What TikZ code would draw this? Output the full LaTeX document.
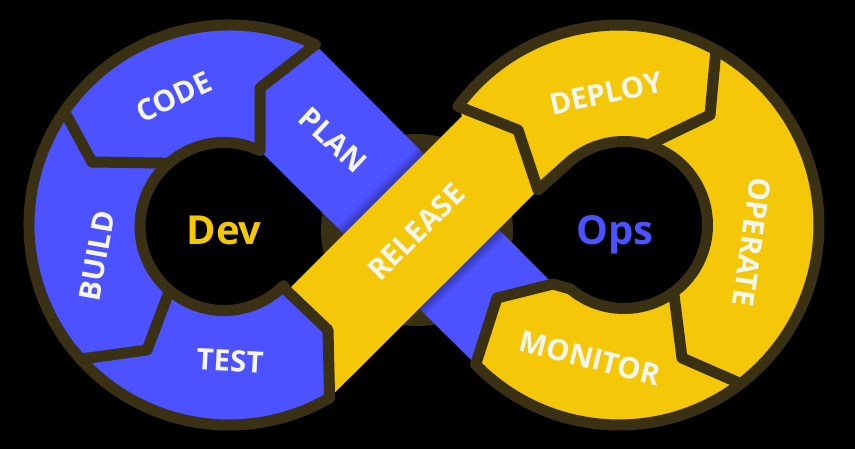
\documentclass[tikz,border=0pt]{standalone}
\usepackage{fontspec}
\setmainfont{Open Sans}
\usetikzlibrary{calc}
\definecolor{devblue}{RGB}{76,82,255}
\definecolor{devyellow}{RGB}{244,199,8}
\definecolor{rim}{RGB}{58,48,20}
\definecolor{lblwhite}{RGB}{246,246,240}
\begin{document}
\begin{tikzpicture}[x=1pt,y=1pt,
  rimline/.style={draw=rim, line width=11pt, line cap=round, line join=round},
  lbl/.style={text=lblwhite, font=\fontsize{29.5}{29.5}\selectfont\bfseries, inner sep=0pt},
  hub/.style={font=\fontsize{40}{40}\selectfont\bfseries, inner sep=0pt, anchor=base}]
\fill[black] (0,0) rectangle (855,-449);
\useasboundingbox (0,0) rectangle (855,-449);
% centres
\coordinate (L) at (229,-225);
\coordinate (HL) at (224,-226.5);
\coordinate (R) at (619,-225);
\coordinate (HR) at (624,-225);
% left separators
\coordinate (A1) at ($(L)+(64.4:200)$);
\coordinate (A2) at (260,-88);
\coordinate (A3) at ($(HL)+(64.6:84)$);
\coordinate (B1) at ($(L)+(145.4:200)$);
\coordinate (B2) at (92,-162);
\coordinate (B3) at ($(HL)+(131:84)$);
\coordinate (C1) at ($(L)+(222.1:200)$);
\coordinate (C2) at (147,-350);
\coordinate (C3) at ($(HL)+(229.6:84)$);
\coordinate (D1) at ($(L)+(-59.8:200)$);
\coordinate (D2) at (328,-330);
\coordinate (D3) at (287,-291);
\coordinate (D4) at ($(HL)+(315:84)$);
% right separators
\coordinate (E0) at (462,-116);
\coordinate (E1) at ($(R)+(143.6:200)$);
\coordinate (E2) at (518,-130);
\coordinate (E3) at (538,-190);
\coordinate (E4) at ($(HR)+(133:83.5)$);
\coordinate (F1) at ($(R)+(61:200)$);
\coordinate (F2) at (710,-115);
\coordinate (F3) at ($(HR)+(73.3:83.5)$);
\coordinate (G1) at ($(R)+(-52.5:200)$);
\coordinate (G2) at (682,-358);
\coordinate (G3) at ($(HR)+(-53.5:83.5)$);
\coordinate (H1) at ($(R)+(224.2:200)$);
\coordinate (H2) at (497,-298);
\coordinate (H3) at (553,-284);
\coordinate (H4) at ($(HR)+(-130:83.5)$);
% crossing disc
\fill[rim] (417,-230) circle[radius=96];
% left body: CODE, BUILD, TEST
\fill[devblue] (A1) arc[start angle=64.4, end angle=300.2, radius=200] -- (D2) -- (D3) -- (D4)
  arc[start angle=315, end angle=64.6, radius=84] -- (A2) -- cycle;
% right body: DEPLOY, OPERATE, MONITOR
\fill[devyellow] (E1) arc[start angle=143.6, end angle=-135.8, radius=200] -- (H2) -- (H3) -- (H4)
  arc[start angle=-130, end angle=133, radius=83.5] -- (E3) -- (E2) -- cycle;
% PLAN band
\fill[devblue] (A1) -- (A2) -- (A3) -- (H1) -- (H2) -- (H3) -- cycle;
% shadow of RELEASE on PLAN
\begin{scope}
  \clip (A1) -- (A2) -- (A3) -- (H1) -- (H2) -- (H3) -- cycle;
  \foreach \w in {18,12,7} {
    \draw[black, opacity=0.09, line width=\w pt] (D3) -- (E0);
    \draw[black, opacity=0.09, line width=\w pt] (E3) -- (D1);
  }
\end{scope}
% RELEASE band
\fill[devyellow] (D1) -- (D2) -- (D3) -- (E0) -- (E1) -- (E2) -- (E3) -- cycle;
% outlines
\draw[rimline] (A1) arc[start angle=64.4, end angle=300.2, radius=200];
\draw[rimline] (A3) arc[start angle=64.6, end angle=315, radius=84] -- (D3);
\draw[rimline] (A1) -- (A2) -- (A3);
\draw[rimline] (B1) -- (B2) -- (B3);
\draw[rimline] (C1) -- (C2) -- (C3);
\draw[rimline] (D1) -- (D2) -- (D3);
\draw[rimline] (E1) arc[start angle=143.6, end angle=-135.8, radius=200];
\draw[rimline] (E3) -- (E4) arc[start angle=133, end angle=-130, radius=83.5] -- (H3);
\draw[rimline] (E1) -- (E2) -- (E3);
\draw[rimline] (F1) -- (F2) -- (F3);
\draw[rimline] (G1) -- (G2) -- (G3);
\draw[rimline] (H1) -- (H2) -- (H3);
% labels
\node[lbl, rotate=25] (code) at (174,-97) {CODE};
\node[lbl, rotate=-43] (plan) at (333,-140) {PLAN};
\node[lbl, rotate=80] (build) at (97,-256) {BUILD};
\node[lbl, rotate=-3] (test) at (230,-361) {TEST};
\node[lbl, rotate=45] (release) at (416,-232) {RELEASE};
\node[lbl, rotate=12] (deploy) at (606,-93) {DEPLOY};
\node[lbl, rotate=-98] (operate) at (752,-242) {OPERATE};
\node[lbl, rotate=-14] (monitor) at (590,-358) {MONITOR};
\node[hub, text=devyellow] (dev) at (224,-245) {Dev};
\node[hub, text=devblue] (ops) at (615,-245) {Ops};
\end{tikzpicture}
\end{document}
